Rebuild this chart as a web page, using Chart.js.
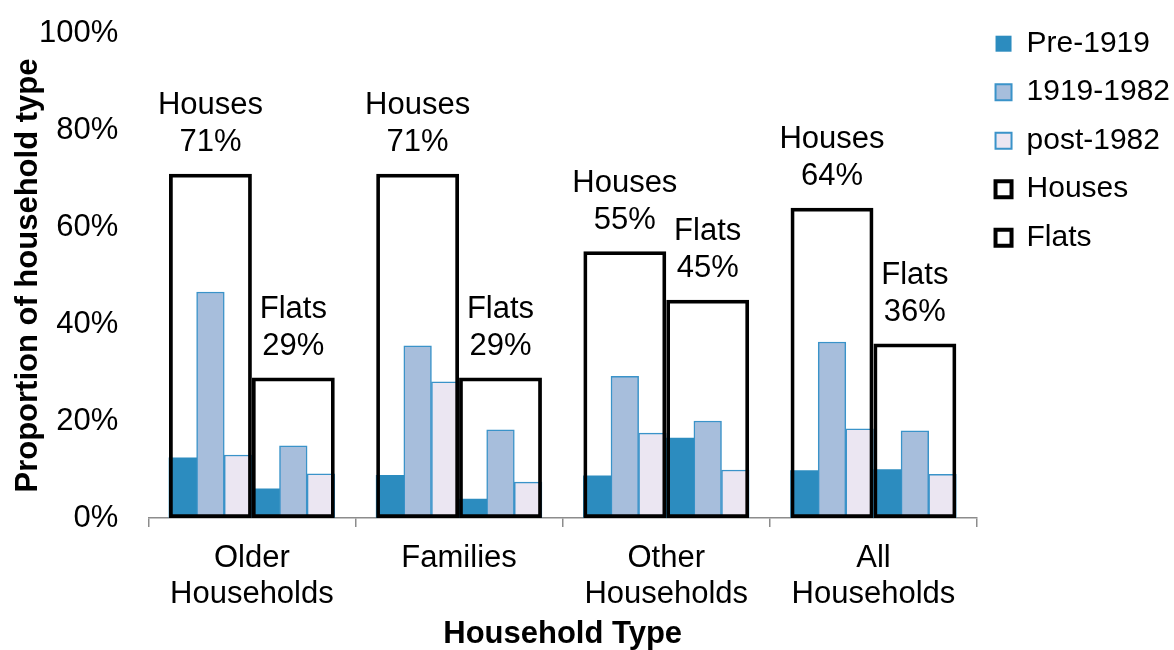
<!DOCTYPE html>
<html>
<head>
<meta charset="utf-8">
<script src="https://cdn.jsdelivr.net/npm/chart.js@4/dist/chart.umd.min.js"></script>
<style>
  html, body { margin: 0; padding: 0; background: #fff; }
  #wrap { width: 1174px; height: 650px; }
</style>
</head>
<body>
<div id="wrap"><canvas id="chart"></canvas></div>
<script>
const categories = [['Older', 'Households'], ['Families'], ['Other', 'Households'], ['All', 'Households']];
const yTicks = [0, 20, 40, 60, 80, 100];

// share of each household type living in houses vs flats
const housesShare = [71, 71, 55, 64];
const flatsShare = [29, 29, 45, 36];

// split by age of dwelling
const housesPre1919 = [12.4, 8.8, 8.7, 9.8];
const houses1919to1982 = [46.6, 35.5, 29.2, 36.3];
const housesPost1982 = [13.0, 28.1, 17.5, 18.4];
const flatsPre1919 = [6.0, 3.9, 16.5, 10.0];
const flats1919to1982 = [14.9, 18.2, 20.0, 18.0];
const flatsPost1982 = [9.1, 7.4, 9.9, 9.0];

const FONT = "'Liberation Sans', Arial, sans-serif";
const PRE = '#2c8cbf';
const MID = '#a7bedc';
const POST = '#ebe6f2';
const EDGE = '#3a93c9';

// six thin bars per category, the two outlines sit over slots 2 and 5
const SLOT = [-1 / 3, -0.2, -1 / 15, 1 / 15, 0.2, 1 / 3];
const placed = (values, off) => values.map((v, i) => ({ x: i + off, y: v }));

const ageBar = (label, values, off, fill, border, bw) => ({
  label,
  data: placed(values, off),
  backgroundColor: fill,
  borderColor: border,
  borderWidth: bw,
  borderSkipped: 'start',
  xAxisID: 'xb',
  grouped: false,
  categoryPercentage: 1,
  barPercentage: 1,
  order: 0
});

const outlineBar = (label, values, off) => ({
  label,
  data: placed(values, off),
  backgroundColor: 'rgba(0,0,0,0)',
  borderColor: '#000',
  borderWidth: 3.75,
  borderSkipped: false,
  xAxisID: 'xb',
  grouped: false,
  categoryPercentage: 1,
  barPercentage: 3,
  order: -1
});

// "Houses 71%" captions above the outline bars
const outlineLabels = {
  id: 'outlineLabels',
  afterDatasetsDraw(chart) {
    const ctx = chart.ctx;
    ctx.save();
    ctx.font = '31px ' + FONT;
    ctx.fillStyle = '#000';
    ctx.textAlign = 'center';
    ctx.textBaseline = 'middle';
    chart.data.datasets.forEach((ds, i) => {
      if (ds.order !== -1) return;
      chart.getDatasetMeta(i).data.forEach((bar, j) => {
        ctx.fillText(ds.label, bar.x, bar.y - 68);
        ctx.fillText(ds.data[j].y + '%', bar.x, bar.y - 31);
      });
    });
    ctx.restore();
  }
};

const legendItems = [
  { text: 'Pre-1919', fillStyle: PRE, strokeStyle: PRE, lineWidth: 0 },
  { text: '1919-1982', fillStyle: MID, strokeStyle: EDGE, lineWidth: 2 },
  { text: 'post-1982', fillStyle: POST, strokeStyle: EDGE, lineWidth: 2 },
  { text: 'Houses', fillStyle: '#fff', strokeStyle: '#000', lineWidth: 4 },
  { text: 'Flats', fillStyle: '#fff', strokeStyle: '#000', lineWidth: 4 }
];

new Chart(document.getElementById('chart'), {
  type: 'bar',
  data: {
    labels: categories,
    datasets: [
      ageBar('Pre-1919', housesPre1919, SLOT[0], PRE, PRE, 0),
      ageBar('1919-1982', houses1919to1982, SLOT[1], MID, EDGE, 1.5),
      ageBar('post-1982', housesPost1982, SLOT[2], POST, EDGE, 1.5),
      ageBar('Pre-1919', flatsPre1919, SLOT[3], PRE, PRE, 0),
      ageBar('1919-1982', flats1919to1982, SLOT[4], MID, EDGE, 1.5),
      ageBar('post-1982', flatsPost1982, SLOT[5], POST, EDGE, 1.5),
      outlineBar('Houses', housesShare, SLOT[1]),
      outlineBar('Flats', flatsShare, SLOT[4])
    ]
  },
  options: {
    responsive: true,
    maintainAspectRatio: false,
    animation: false,
    layout: { padding: { top: -6, right: -6, left: 2, bottom: 0 } },
    plugins: {
      tooltip: { enabled: false },
      legend: {
        position: 'right',
        align: 'start',
        onClick: null,
        // empty title only used as top spacing
        title: { display: true, text: ' ', font: { size: 1 }, padding: { top: 15, bottom: 0 } },
        labels: {
          font: { family: FONT, size: 30 },
          color: '#000',
          boxWidth: 16,
          boxHeight: 16,
          padding: 18.5,
          generateLabels: () => legendItems.map(it => ({ ...it, fontColor: '#000', hidden: false }))
        }
      }
    },
    scales: {
      x: {
        type: 'category',
        offset: true,
        grid: {
          display: true,
          offset: true,
          drawOnChartArea: false,
          drawTicks: true,
          tickLength: 9,
          color: '#8c8c8c',
          lineWidth: 1.5
        },
        border: { display: true, color: '#8c8c8c', width: 1.5 },
        ticks: {
          font: { family: FONT, size: 31, lineHeight: 1.145 },
          color: '#000',
          padding: 14,
          maxRotation: 0
        },
        title: {
          display: true,
          text: 'Household Type',
          font: { family: FONT, size: 31, weight: 'bold', lineHeight: 1 },
          color: '#000',
          padding: { top: -7, bottom: 0 }
        }
      },
      xb: {
        type: 'linear',
        display: false,
        offset: false,
        min: -0.5,
        max: categories.length - 0.5,
        ticks: { stepSize: 1 }
      },
      y: {
        min: yTicks[0],
        max: yTicks[yTicks.length - 1],
        grid: { display: false, drawTicks: false },
        border: { display: false },
        afterBuildTicks: axis => { axis.ticks = yTicks.map(v => ({ value: v })); },
        ticks: {
          font: { family: FONT, size: 31, lineHeight: 0.2 },
          color: '#000',
          padding: 30,
          callback: v => v + '%'
        },
        title: {
          display: true,
          text: 'Proportion of household type',
          font: { family: FONT, size: 31, weight: 'bold', lineHeight: 1 },
          color: '#000',
          padding: { top: 11, bottom: -35 }
        }
      }
    }
  },
  plugins: [outlineLabels]
});
</script>
</body>
</html>
